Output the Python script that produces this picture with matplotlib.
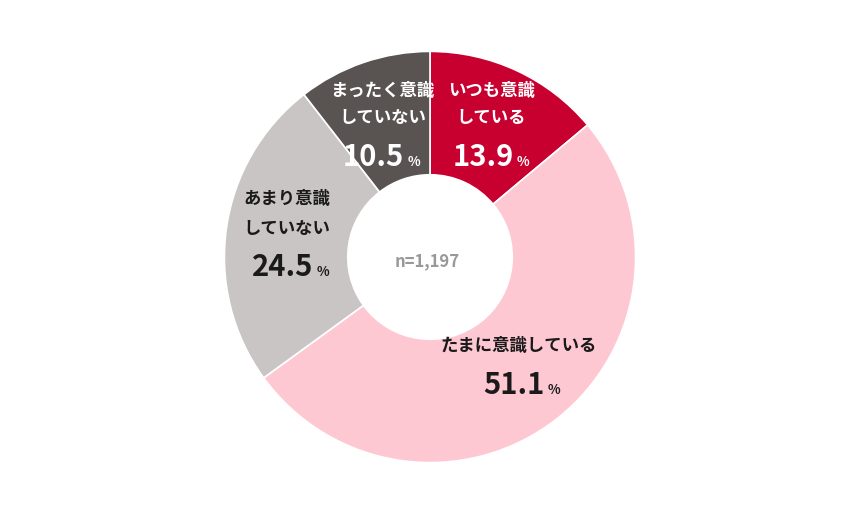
import matplotlib
matplotlib.use("Agg")
import matplotlib.pyplot as plt

plt.rcParams['font.family'] = ['Noto Sans CJK JP', 'DejaVu Sans']

# data (clockwise from 12 o'clock)
categories = ['いつも意識\nしている', 'たまに意識している', 'あまり意識\nしていない', 'まったく意識\nしていない']
shares = [13.9, 51.1, 24.5, 10.5]
colors = ['#C8002F', '#FEC8D3', '#C9C5C4', '#595352']
label_colors = ['white', '#1a1a1a', '#1a1a1a', 'white']
sample_note = 'n=1,197'

W, H = 860, 514
R = 207.0           # outer radius in px
CX, CY = 430, 258   # centre in px (from top)

fig = plt.figure(figsize=(W / 100, H / 100), dpi=100)
ax = fig.add_axes([0, 0, 1, 1])
ax.set_xlim(-CX / R, (W - CX) / R)
ax.set_ylim(-(H - CY) / R, CY / R)
ax.set_aspect('equal')
ax.axis('off')

ax.pie(shares, colors=colors, startangle=90, counterclock=False, radius=1.0,
       wedgeprops=dict(width=0.6, edgecolor='white', linewidth=1.2))


def px(x, y):
    return (x - CX) / R, (CY - y) / R


# label anchors (px): (text centre x, first line y, second line y, number right x, number baseline y)
layout = [
    (492, 91, 118, 514, 166),
    (519, 348, None, 545, 396),
    (286, 200, 230, 313, 277),
    (382, 91, 118, 404, 166),
]

for cat, val, col, (tx, y1, y2, nx, ny) in zip(categories, shares, label_colors, layout):
    lines = cat.split('\n')
    ax.text(*px(tx, y1), lines[0], ha='center', va='center', fontsize=12.5,
            fontweight='bold', color=col)
    if len(lines) > 1:
        ax.text(*px(tx, y2), lines[1], ha='center', va='center', fontsize=12.5,
                fontweight='bold', color=col)
    ax.text(*px(nx, ny), f'{val:.1f}', ha='right', va='baseline', fontsize=21,
            fontweight='bold', color=col)
    ax.text(*px(nx + 3, ny), '%', ha='left', va='baseline', fontsize=9.5,
            fontweight='bold', color=col)

ax.text(*px(427, 262), sample_note, ha='center', va='center', fontsize=12,
        fontweight='bold', color='#999999')

fig.savefig('out.png', dpi=100)
